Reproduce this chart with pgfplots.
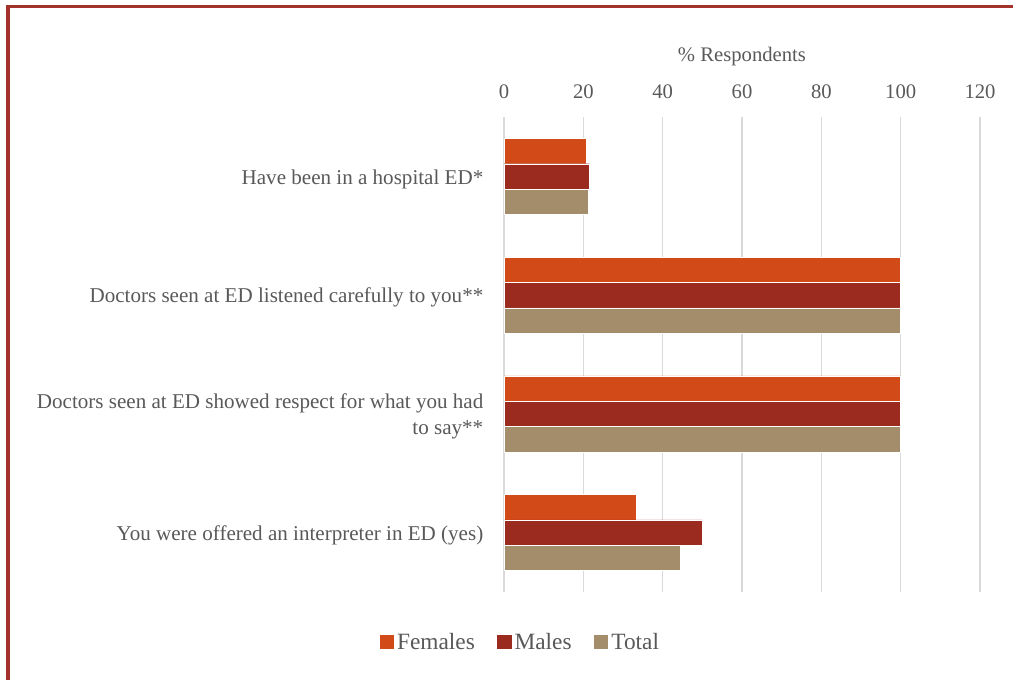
\documentclass[border=0pt]{standalone}
\usepackage{pgfplots}
\pgfplotsset{compat=1.18}
\usepackage{fontspec}
\setmainfont{Liberation Serif}
\definecolor{fem}{HTML}{D24A17}
\definecolor{mal}{HTML}{9C2B1F}
\definecolor{tot}{HTML}{A38D6A}
\definecolor{txt}{HTML}{595959}
\definecolor{frame}{HTML}{A3322A}
\definecolor{gridc}{HTML}{D9D9D9}
\begin{document}
\begin{tikzpicture}
\useasboundingbox (0,0) rectangle (759.75pt,-510pt);
\draw[frame, line width=2.4pt] (6pt,-5pt) rectangle (800pt,-560pt);
\begin{axis}[
  at={(378pt,-444pt)}, anchor=south west,
  scale only axis, width=357pt, height=356.25pt,
  bar width=18pt,
  xmin=0, xmax=120, ymin=-0.5, ymax=3.5,
  y dir=reverse,
  xtick={0,20,40,60,80,100,120},
  xticklabel pos=right,
  xmajorgrids, grid style={gridc, line width=1pt},
  axis line style={draw=none},
  major tick length=0pt,
  ytick={0,1,2,3},
  yticklabels={Have been in a hospital ED*, Doctors seen at ED listened carefully to you**, {Doctors seen at ED showed respect for what you had\\ to say**}, You were offered an interpreter in ED (yes)},
  yticklabel style={align=right, font=\fontsize{15.8}{19.5}\selectfont, text=txt, xshift=-12pt, yshift=-2pt},
  xticklabel style={font=\fontsize{15.5}{18}\selectfont, text=txt, yshift=10pt},
  /pgf/number format/assume math mode=true,
  xlabel={\% Respondents},
  xlabel style={font=\fontsize{15.5}{18}\selectfont, text=txt, yshift=7.5pt},
  legend style={at={(0.034,-0.107)}, anchor=center, legend columns=-1, draw=none,
    font=\fontsize{17.5}{20}\selectfont, text=txt,
    /tikz/every even column/.append style={column sep=14pt}},
  legend image code/.code={\fill[#1] (0pt,-5pt) rectangle (11.5pt,6.5pt);},
]
\addplot[xbar, bar shift=19pt, bar width=19pt, fill=fem, draw=white, line width=0.3pt] coordinates {(20.7,0) (100,1) (100,2) (33.3,3)};
\addplot[xbar, bar shift=0pt, bar width=19pt, fill=mal, draw=white, line width=0.3pt] coordinates {(21.5,0) (100,1) (100,2) (50,3)};
\addplot[xbar, bar shift=-19pt, bar width=19pt, fill=tot, draw=white, line width=0.3pt] coordinates {(21.2,0) (100,1) (100,2) (44.4,3)};
\legend{Females, Males, Total}
\end{axis}
\end{tikzpicture}
\end{document}
